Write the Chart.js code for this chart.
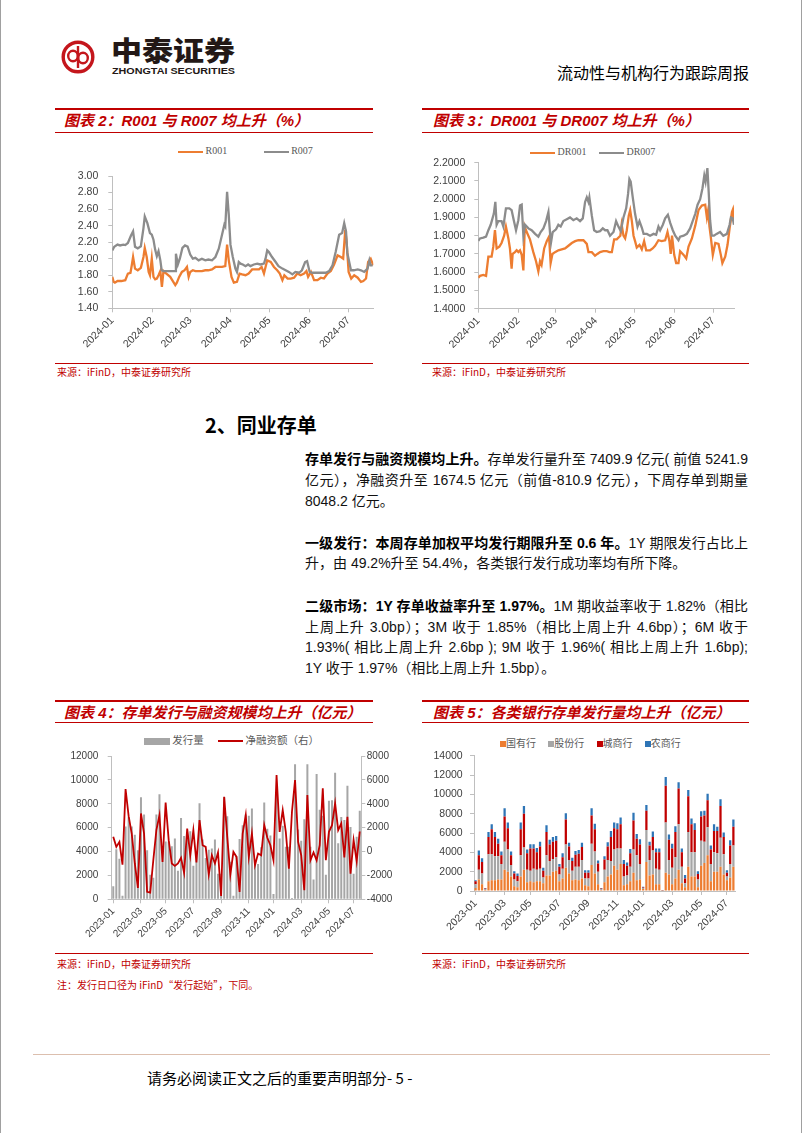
<!DOCTYPE html>
<html>
<head>
<meta charset="utf-8">
<script src="https://cdn.jsdelivr.net/npm/chart.js@4.4.1/dist/chart.umd.min.js"></script>
<style>
html, body { margin: 0; padding: 0; background: #fff; }
body { width: 802px; height: 1133px; position: relative; overflow: hidden; font-family: "Liberation Sans", "Noto Sans CJK SC", sans-serif; }
.edge { position: absolute; top: 0; width: 1px; height: 1133px; background: #a0a0a0; }
.rule { position: absolute; height: 0; border-top: 1px solid #c00000; }
.rule.thick { border-top-width: 2px; }
.ttl { position: absolute; color: #c00000; font-size: 15px; font-weight: bold; font-style: italic; white-space: nowrap; line-height: 20px; }
.src { position: absolute; color: #c00000; font-size: 10px; white-space: nowrap; line-height: 12px; font-family: "Noto Sans CJK SC", sans-serif; }
.leg { position: absolute; font-size: 10px; color: #595959; white-space: nowrap; line-height: 12px; }
.serif { font-family: "Liberation Serif", serif; }
.cjk { font-family: "Noto Sans CJK SC", sans-serif; font-size: 10.5px; }
.ln { position: absolute; left: 305px; width: 443px; white-space: nowrap; font-size: 14px; line-height: 20px; color: #111; text-align: justify; text-align-last: justify; }
.ln.end { text-align-last: left; }
.ln b { color: #000; }
canvas { position: absolute; }
</style>
</head>
<body>
<div class="edge" style="left:0"></div>
<div class="edge" style="left:801px"></div>

<!-- header -->
<svg style="position:absolute;left:0;top:0" width="802" height="100">
  <circle cx="78" cy="57" r="14.8" fill="none" stroke="#c4161c" stroke-width="3.4"/>
  <line x1="78" y1="46" x2="78" y2="68" stroke="#c4161c" stroke-width="2.4"/>
  <ellipse cx="73" cy="56" rx="4.8" ry="5.2" fill="none" stroke="#c4161c" stroke-width="2.4"/>
  <ellipse cx="83" cy="58" rx="4.8" ry="5.2" fill="none" stroke="#c4161c" stroke-width="2.4"/>
  <text x="111" y="60" font-family="Noto Sans CJK SC" font-weight="900" font-size="22" fill="#231816" textLength="124" lengthAdjust="spacingAndGlyphs" transform="translate(0,-14) scale(1,1.25)">中泰证券</text>
  <text x="112" y="73.5" font-family="Liberation Sans" font-weight="bold" font-size="9.2" fill="#231816" textLength="123" lengthAdjust="spacingAndGlyphs">ZHONGTAI SECURITIES</text>
</svg>
<div style="position:absolute;left:557px;top:62px;font-size:16px;line-height:20px;color:#000;font-family:'Noto Sans CJK SC';white-space:nowrap">流动性与机构行为跟踪周报</div>

<!-- chart 2 frame -->
<div class="rule thick" style="left:55px;top:108px;width:318px"></div>
<div class="ttl" style="left:64px;top:111px">图表 2：R001 与 R007 均上升（%）</div>
<div class="rule" style="left:55px;top:132px;width:318px"></div>
<div class="leg serif" style="left:178px;top:145px">
  <span style="display:inline-block;width:25px;height:2px;background:#ed7d31;vertical-align:middle"></span> R001
  <span style="display:inline-block;width:25px;height:2px;background:#8c8c8c;vertical-align:middle;margin-left:34px"></span> R007
</div>
<canvas id="c2" width="318" height="220" style="left:57px;top:140px"></canvas>
<div class="rule" style="left:55px;top:363px;width:318px"></div>
<div class="src" style="left:57px;top:366px">来源：iFinD，中泰证券研究所</div>

<!-- chart 3 frame -->
<div class="rule thick" style="left:422px;top:108px;width:327px"></div>
<div class="ttl" style="left:433px;top:111px">图表 3：DR001 与 DR007 均上升（%）</div>
<div class="rule" style="left:422px;top:132px;width:327px"></div>
<div class="leg serif" style="left:530px;top:146px">
  <span style="display:inline-block;width:25px;height:2px;background:#ed7d31;vertical-align:middle"></span> DR001
  <span style="display:inline-block;width:25px;height:2px;background:#8c8c8c;vertical-align:middle;margin-left:10px"></span> DR007
</div>
<canvas id="c3" width="326" height="220" style="left:422px;top:140px"></canvas>
<div class="rule" style="left:422px;top:363px;width:327px"></div>
<div class="src" style="left:432px;top:366px">来源：iFinD，中泰证券研究所</div>

<!-- text section -->
<div style="position:absolute;left:205px;top:413px;font-size:20px;font-weight:bold;line-height:24px;font-family:'Noto Sans CJK SC';white-space:nowrap">2、同业存单</div>
<div class="ln" style="top:449px"><b>存单发行与融资规模均上升。</b>存单发行量升至 7409.9 亿元( 前值 5241.9</div>
<div class="ln" style="top:470px">亿元），净融资升至 1674.5 亿元（前值-810.9 亿元），下周存单到期量</div>
<div class="ln end" style="top:491px">8048.2 亿元。</div>
<div class="ln" style="top:533px"><b>一级发行：本周存单加权平均发行期限升至 0.6 年。</b>1Y 期限发行占比上</div>
<div class="ln end" style="top:553px">升，由 49.2%升至 54.4%，各类银行发行成功率均有所下降。</div>
<div class="ln" style="top:596px"><b>二级市场：1Y 存单收益率升至 1.97%。</b>1M 期收益率收于 1.82%（相比</div>
<div class="ln" style="top:617px">上周上升 3.0bp）；3M 收于 1.85%（相比上周上升 4.6bp）；6M 收于</div>
<div class="ln" style="top:637px">1.93%( 相比上周上升 2.6bp ); 9M 收于 1.96%( 相比上周上升 1.6bp);</div>
<div class="ln end" style="top:658px">1Y 收于 1.97%（相比上周上升 1.5bp）。</div>

<!-- chart 4 frame -->
<div class="rule thick" style="left:55px;top:700px;width:318px"></div>
<div class="ttl" style="left:64px;top:703px">图表 4：存单发行与融资规模均上升（亿元）</div>
<div class="rule" style="left:55px;top:722px;width:318px"></div>
<div class="leg cjk" style="left:144px;top:734px">
  <span style="display:inline-block;width:26px;height:7px;background:#a6a6a6;vertical-align:middle"></span> 发行量
  <span style="display:inline-block;width:25px;height:2px;background:#c00000;vertical-align:middle;margin-left:12px"></span> 净融资额（右）
</div>
<canvas id="c4" width="343" height="220" style="left:57px;top:730px"></canvas>
<div class="rule" style="left:55px;top:953px;width:318px"></div>
<div class="src" style="left:57px;top:958px">来源：iFinD，中泰证券研究所</div>
<div class="src" style="left:57px;top:979px">注：发行日口径为 iFinD“发行起始”，下同。</div>

<!-- chart 5 frame -->
<div class="rule thick" style="left:422px;top:700px;width:327px"></div>
<div class="ttl" style="left:433px;top:703px">图表 5：各类银行存单发行量均上升（亿元）</div>
<div class="rule" style="left:422px;top:722px;width:327px"></div>
<div class="leg cjk" style="left:500px;top:737px;font-size:10px">
  <span style="display:inline-block;width:6px;height:6px;background:#ed7d31;vertical-align:middle"></span>国有行
  <span style="display:inline-block;width:6px;height:6px;background:#a6a6a6;vertical-align:middle;margin-left:10px"></span>股份行
  <span style="display:inline-block;width:6px;height:6px;background:#c00000;vertical-align:middle;margin-left:10px"></span>城商行
  <span style="display:inline-block;width:6px;height:6px;background:#2e75b6;vertical-align:middle;margin-left:10px"></span>农商行
</div>
<canvas id="c5" width="326" height="215" style="left:422px;top:730px"></canvas>
<div class="rule" style="left:422px;top:953px;width:327px"></div>
<div class="src" style="left:432px;top:958px">来源：iFinD，中泰证券研究所</div>

<!-- footer -->
<div style="position:absolute;left:33px;top:1054px;width:737px;height:0;border-top:1.5px solid #dcbfae"></div>
<div style="position:absolute;left:147px;top:1068px;font-size:15px;line-height:20px;color:#000;font-family:'Noto Sans CJK SC';white-space:nowrap">请务必阅读正文之后的重要声明部分- 5 -</div>

<script>
// ---- chart 2: R001 / R007, day offsets from 2024-01-01
const monthDays = [0, 31, 60, 91, 121, 152, 182];
const monthLabels = ['2024-01', '2024-02', '2024-03', '2024-04', '2024-05', '2024-06', '2024-07'];

const r001Days = [0,1,2,4,7,10,12,14,15,16,17.5,19.6,22,24,25,26.5,28,29,30.4,31.7,33,34.3,35.6,37,38.2,39.4,40.7,44.6,48.5,49.7,51.5,53.6,55.7,57.5,58.8,60,62,64,66.5,69,71.6,74,76.8,79.4,82,84.5,87,88.4,89.7,91.8,93.6,96,98,100,102.6,105,107.7,110.3,113,115,116.8,119.3,122,124.5,127,129,131,132.5,135,137.4,140,142.5,145,147.7,149.5,150.8,153,155.4,158,160.6,163,165.7,168.3,170.8,173.5,176,177.8,179.4,180.4,182,184,186.3,189,191.5,193.3,195.4,197,199,201];
const r001Vals = [1.78,1.72,1.71,1.73,1.73,1.74,1.82,1.83,1.92,2.02,1.88,1.86,1.89,2.02,2.13,2.02,1.84,1.80,2.00,1.78,1.75,1.76,1.80,1.85,1.66,1.85,1.83,1.78,1.68,1.71,1.78,1.84,1.86,1.90,1.78,1.84,1.86,1.85,1.85,1.85,1.86,1.86,1.87,1.90,1.90,1.90,1.91,2.17,1.98,1.78,1.71,1.72,1.82,1.81,1.80,1.82,1.87,1.87,1.87,1.90,1.82,1.98,1.96,1.90,1.86,1.82,1.74,1.80,1.76,1.76,1.77,1.82,1.80,1.82,1.85,1.78,1.84,1.74,1.74,1.77,1.76,1.82,1.85,1.93,2.04,2.02,2.00,2.35,2.21,1.84,1.76,1.80,1.77,1.72,1.73,1.76,1.96,2.00,1.92];
const r007Days = [0,1.5,4,6,8.5,10,12,14.4,16,17.5,19.6,22,24,25,27,29,30.4,31.7,33,34.3,35.6,37,38,39.4,48.5,49,50.5,52,54,56,58,60,62,64,66.5,69,71.6,74,76.8,79.4,82,84.5,86.3,87,88.4,89.7,91,92.8,94.8,96,97.4,98.7,100.5,102.6,104.6,106.4,109,111.6,114,116.8,118,119.3,120.6,123,125.8,128,131,133.5,136,138.7,141,144,146,148.5,150,152,154,159,164.4,167,169.6,172,174.7,177,178.6,180,181,183.8,186,189,191.5,194,196.6,198,199,200.5];
const r007Vals = [2.10,2.145,2.17,2.16,2.17,2.165,2.19,2.28,2.33,2.145,2.125,2.15,2.37,2.51,2.43,2.31,2.29,2.23,2.11,2.03,2.09,1.98,1.86,1.85,1.85,2.06,1.93,2.00,2.13,2.16,2.145,2.05,2.00,2.01,1.98,2.00,1.98,1.99,1.98,2.02,2.12,2.29,2.41,2.39,2.81,2.53,2.17,2.02,1.88,1.84,1.96,1.94,1.93,1.91,1.93,1.91,1.93,1.94,1.93,1.94,2.00,2.10,2.08,2.02,1.96,1.91,1.88,1.86,1.84,1.81,1.84,1.83,1.86,1.96,1.97,1.84,1.83,1.83,1.83,1.85,1.92,2.08,2.29,2.31,2.43,2.33,2.07,1.86,1.86,1.87,1.86,1.84,1.88,1.98,1.92,1.92];
const yTicks2 = [1.4, 1.6, 1.8, 2.0, 2.2, 2.4, 2.6, 2.8, 3.0];

// ---- chart 3: DR001 / DR007
const dr001Days = [0,1.3,3.9,6,7.8,10.3,11.6,12.9,14.2,16.3,18,20,21.4,23.3,24.5,25.8,26.6,28.4,29.7,31,32.3,33.6,34.9,36,37.5,40,42.6,44.7,46.5,47.8,49,51,53,54.8,56,57.4,59.4,62,64.6,67.2,69.8,72.4,75,77.5,81.4,84,85.3,87.9,90.4,92.2,94.3,96.9,99.5,101.5,103.4,105.2,107.2,110,111,112.4,113.7,115,116.5,117.6,118.9,120.2,121.4,122.7,124.8,126.6,128.4,130,133,135,136.9,139.5,142,144.7,146.5,148,149,150,151.7,153.2,155,156.3,159,161,162.8,165.4,168,170.5,173.1,175.7,177,178,179,180,181.6,183.5,186,187.8,189,191.2,193,194.6,196.4,197.2,198];
const dr001Vals = [1.57,1.58,1.585,1.58,1.685,1.685,1.74,1.83,1.73,1.74,1.76,1.80,1.85,1.785,1.73,1.62,1.70,1.71,1.72,1.71,1.72,1.695,1.61,1.85,1.82,1.78,1.71,1.66,1.605,1.66,1.64,1.73,1.77,1.795,1.65,1.70,1.71,1.72,1.725,1.73,1.745,1.76,1.77,1.775,1.775,1.755,1.71,1.71,1.69,1.70,1.71,1.715,1.715,1.71,1.71,1.78,1.78,1.80,1.86,1.80,1.785,1.83,1.91,1.94,1.88,1.80,1.77,1.735,1.75,1.725,1.77,1.72,1.72,1.73,1.745,1.775,1.77,1.775,1.82,1.77,1.70,1.80,1.695,1.65,1.65,1.715,1.695,1.675,1.74,1.785,1.855,1.94,1.965,1.97,1.90,1.94,1.85,1.795,1.695,1.76,1.755,1.695,1.65,1.685,1.75,1.84,1.93,1.945,1.885];
const dr007Days = [0,1.3,3.9,6,7.8,9.6,11,12,13.2,14.2,15.5,18,19.4,21.4,24,25.8,27.6,29.2,31,32.3,33.6,34.9,36.2,38.8,41.3,44,46.5,48.3,50.4,52.5,54.3,55.6,56.3,57.6,60.2,62,63.8,65.9,68.5,71,73.6,76.2,78.8,80.9,82.7,84,85.3,86,87.9,89.7,91.7,94.3,96.4,98.2,100,102,104.7,106.7,108.5,110.3,112.4,114.5,116,117,118,119.6,121.4,123.3,124.8,126.6,128,130.5,133,135.7,137.7,139.5,140.8,142.9,144.7,146.8,148.6,150.6,152.5,155,156.3,159,161.5,164,166,168,169.8,171.8,173.6,175,176,177.4,178.4,179.5,180.7,182.5,184.5,187.2,189.7,192.5,194.6,195.6,197,198];
const dr007Vals = [1.771,1.785,1.79,1.795,1.83,1.86,1.895,1.92,1.985,1.86,1.88,1.88,1.85,1.95,1.95,1.94,1.88,1.83,1.885,1.965,1.97,1.80,1.86,1.84,1.83,1.81,1.795,1.82,1.84,1.88,1.93,1.81,1.763,1.82,1.835,1.86,1.85,1.88,1.89,1.90,1.885,1.895,1.88,1.895,1.985,2.01,1.985,2.01,1.91,1.83,1.82,1.825,1.84,1.83,1.83,1.80,1.82,1.88,1.85,1.825,1.90,1.95,2.03,2.11,2.096,2.01,1.92,1.85,1.88,1.845,1.81,1.81,1.80,1.81,1.805,1.85,1.83,1.86,1.895,1.915,1.87,1.83,1.80,1.775,1.795,1.80,1.81,1.84,1.88,1.92,1.97,2.00,2.06,2.13,2.095,2.17,2.04,1.885,1.80,1.80,1.81,1.82,1.80,1.81,1.86,1.90,1.895,1.86];
const yTicks3 = [1.4, 1.5, 1.6, 1.7, 1.8, 1.9, 2.0, 2.1, 2.2];

// ---- chart 4 / 5: weekly, first week starts 2023-01-02
const issueVol = [1100,4200,3400,300,6100,6900,6100,5400,4100,8550,
  7100,4100,2050,1800,7100,8800,4300,4850,4850,4450,
  5100,2400,6800,5300,5600,5700,2800,3900,8050,5000,
  3450,4150,4250,5000,2150,2150,8550,6950,3150,300,
  3600,5050,6200,7100,7000,7600,3200,2950,4350,8100,
  5900,5350,450,8900,5100,6150,4400,4400,100,11300,
  5850,4900,6700,11300,4400,1650,10500,7500,7000,2050,
  8250,8300,10600,4700,6900,6650,9500,6050,2150,5242,7410];
const netFin = [1230,390,810,-1100,5230,2960,1510,-1000,-3050,3190,
  1510,-3380,-3440,-730,1790,3050,-870,4110,950,-1000,
  -1200,-1000,-530,-1790,1930,-310,1790,-920,2630,530,
  390,-1930,-310,-1000,-80,-3720,4590,1230,-1930,-30,
  -450,-3380,1510,3050,-450,1510,-1150,-170,-310,2210,
  1150,530,-730,6410,1650,3470,1650,-1430,3330,5990,
  810,-310,-3240,4730,-730,-80,-730,530,5290,-730,
  1650,2210,4030,1790,2350,-500,2910,-1850,950,-811,1675];
const stateBanks = [300,1200,700,100,1000,1100,1100,1200,1200,2200,
  2000,1500,500,400,1500,2200,900,1000,900,1000,
  1000,800,1600,1600,2000,2100,1000,1300,2400,1800,
  1100,1200,1100,1300,600,500,2700,1800,700,100,
  900,1500,1700,2600,2200,2800,600,700,1000,1900,
  1100,1200,200,3000,1600,1700,700,700,20,1900,
  1700,700,1300,2200,800,400,2500,1500,1500,400,
  2600,2900,3700,1000,2000,2000,2500,1700,1100,1400,2500];
const jointBanks = [400,1000,1100,100,2800,2700,2500,2400,1600,2900,
  2300,1200,700,600,2200,2300,1300,1100,1400,1200,
  1300,600,2100,1500,1300,1400,700,1000,2400,1400,
  1000,1300,1400,1900,700,800,2200,2300,1300,100,
  1300,1700,1400,1700,2200,1600,900,900,1500,2400,
  2600,1600,100,3300,1600,2500,1600,1500,30,5200,
  1500,1700,2200,4700,1700,400,3600,2500,2500,800,
  2600,2200,2900,1800,2000,1900,3000,2100,400,1400,2200];
const cityBanks = [300,1500,1200,50,1800,2600,2000,1300,900,2600,
  2200,1000,600,550,2700,3500,1700,2300,2100,1800,
  2300,700,2400,1700,1800,1700,800,1200,2600,1400,
  1000,1250,1350,1350,600,600,2900,2300,850,50,
  1050,1400,2500,2200,2000,2500,1300,1000,1400,3000,
  1700,2000,50,2000,1500,1400,1700,1800,20,3800,
  2100,2000,2600,3700,1500,500,3700,2900,2300,550,
  2500,2700,2800,1500,2200,2300,3300,1800,400,1900,1950];
const ruralBanks = [100,500,400,50,500,500,500,500,400,850,
  600,400,250,250,700,800,400,450,450,450,
  500,300,700,500,500,500,300,400,650,400,
  350,400,400,450,250,250,750,550,300,50,
  350,450,600,600,600,700,400,350,450,800,
  500,550,100,600,400,550,400,400,30,900,
  550,500,600,650,400,350,650,600,700,300,
  550,500,650,400,700,450,700,450,250,540,760];
const monthTicks2023 = ['2023-01','2023-03','2023-05','2023-07','2023-09','2023-11','2024-01','2024-03','2024-05','2024-07'];
const yTicks4 = [0, 2000, 4000, 6000, 8000, 10000, 12000];
const yTicks4r = [-4000, -2000, 0, 2000, 4000, 6000, 8000];
const yTicks5 = [0, 2000, 4000, 6000, 8000, 10000, 12000, 14000];

const axisColor = '#bfbfbf';
const labelColor = '#404040';

const weekLabels = [];
for (let i = 0; i < issueVol.length; i++) {
  const d = new Date(2023, 0, 2 + i * 7);
  weekLabels.push(d.getFullYear() + '-' + String(d.getMonth() + 1).padStart(2, '0') + '-' + String(d.getDate()).padStart(2, '0'));
}
const weekTickIdx = monthTicks2023.map(m => weekLabels.findIndex(w => w.startsWith(m)));

function pts(days, vals) {
  return days.map((d, i) => ({ x: d, y: vals[i] }));
}

function valueAxis(list, dec, width, pad, size, pos) {
  return {
    position: pos || 'left',
    min: list[0], max: list[list.length - 1],
    afterBuildTicks: s => { s.ticks = list.map(v => ({ value: v })); },
    afterFit: s => { s.width = width; },
    grid: { drawOnChartArea: false, color: axisColor, tickLength: 4 },
    border: { color: axisColor },
    ticks: { callback: v => v.toFixed(dec), color: labelColor, padding: pad, font: { family: 'Liberation Sans', size: size } }
  };
}

function dayAxis(max, height) {
  return {
    type: 'linear', min: 0, max: max,
    afterBuildTicks: s => { s.ticks = monthDays.map(v => ({ value: v })); },
    afterFit: s => { s.height = height; },
    grid: { drawOnChartArea: false, color: axisColor, tickLength: 4 },
    border: { color: axisColor },
    ticks: { callback: (v, i) => monthLabels[i], autoSkip: false, minRotation: 45, maxRotation: 45, padding: 2, color: labelColor, font: { family: 'Liberation Sans', size: 10.5 } }
  };
}

function weekAxis(height, size) {
  return {
    afterBuildTicks: s => { s.ticks = weekTickIdx.map(v => ({ value: v })); },
    afterFit: s => { s.height = height; },
    grid: { drawOnChartArea: false, offset: false, color: axisColor, tickLength: 4 },
    border: { color: axisColor },
    ticks: { callback: (v, i) => monthTicks2023[i], autoSkip: false, minRotation: 45, maxRotation: 45, padding: 2, color: labelColor, font: { family: 'Liberation Sans', size: size } }
  };
}

const base = {
  responsive: false, animation: false, events: [],
  plugins: { legend: { display: false }, tooltip: { enabled: false } }
};

new Chart(document.getElementById('c2'), {
  type: 'line',
  data: {
    datasets: [
      { label: 'R001', data: pts(r001Days, r001Vals), borderColor: '#ed7d31', borderWidth: 2.3, pointRadius: 0, tension: 0, order: 2 },
      { label: 'R007', data: pts(r007Days, r007Vals), borderColor: '#8c8c8c', borderWidth: 2.3, pointRadius: 0, tension: 0, order: 1 }
    ]
  },
  options: Object.assign({}, base, {
    layout: { padding: { top: 36, right: 1.7, left: 0, bottom: 0 } },
    scales: { x: dayAxis(201, 51.7), y: valueAxis(yTicks2, 2, 55.3, 10, 10.5) }
  })
});

new Chart(document.getElementById('c3'), {
  type: 'line',
  data: {
    datasets: [
      { label: 'DR001', data: pts(dr001Days, dr001Vals), borderColor: '#ed7d31', borderWidth: 2.3, pointRadius: 0, tension: 0, order: 2 },
      { label: 'DR007', data: pts(dr007Days, dr007Vals), borderColor: '#8c8c8c', borderWidth: 2.3, pointRadius: 0, tension: 0, order: 1 }
    ]
  },
  options: Object.assign({}, base, {
    layout: { padding: { top: 22.7, right: 14, left: 0, bottom: 0 } },
    scales: { x: dayAxis(198, 51.3), y: valueAxis(yTicks3, 4, 56.3, 9, 10.5) }
  })
});

new Chart(document.getElementById('c4'), {
  type: 'bar',
  data: {
    labels: weekLabels,
    datasets: [
      { type: 'line', label: '净融资额（右）', data: netFin, yAxisID: 'y2', borderColor: '#c00000', borderWidth: 1.8, pointRadius: 0, tension: 0, order: 1 },
      { label: '发行量', data: issueVol, yAxisID: 'y', backgroundColor: '#a6a6a6', barPercentage: 0.65, categoryPercentage: 1, order: 2 }
    ]
  },
  options: Object.assign({}, base, {
    layout: { padding: { top: 26, right: 0, left: 0, bottom: 0 } },
    scales: {
      x: weekAxis(50.7, 10),
      y: valueAxis(yTicks4, 0, 54.7, 9.4, 10),
      y2: valueAxis(yTicks4r, 0, 38.7, 1.5, 10, 'right')
    }
  })
});

new Chart(document.getElementById('c5'), {
  type: 'bar',
  data: {
    labels: weekLabels,
    datasets: [
      { label: '国有行', data: stateBanks, backgroundColor: '#ed7d31' },
      { label: '股份行', data: jointBanks, backgroundColor: '#a6a6a6' },
      { label: '城商行', data: cityBanks, backgroundColor: '#c00000' },
      { label: '农商行', data: ruralBanks, backgroundColor: '#2e75b6' }
    ].map(d => Object.assign(d, { barPercentage: 0.7, categoryPercentage: 1 }))
  },
  options: Object.assign({}, base, {
    layout: { padding: { top: 25.7, right: 13, left: 0, bottom: 0 } },
    scales: {
      x: Object.assign(weekAxis(54, 10.5), { stacked: true }),
      y: Object.assign(valueAxis(yTicks5, 0, 52, 7.3, 10.5), { stacked: true })
    }
  })
});
</script>
</body>
</html>
